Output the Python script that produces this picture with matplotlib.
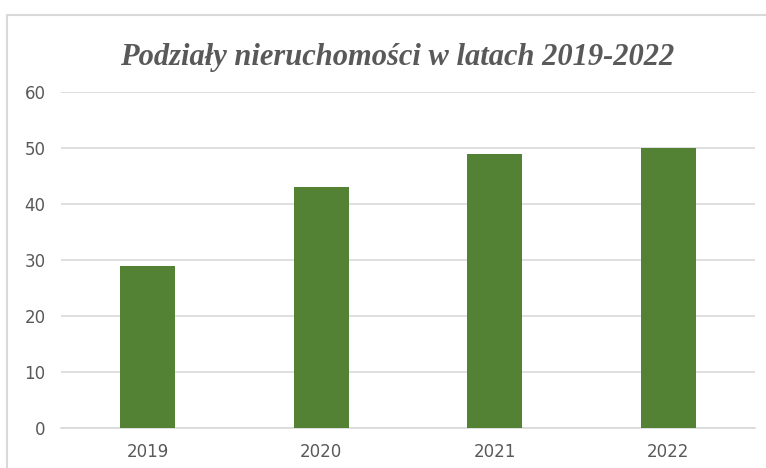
import matplotlib
matplotlib.use("Agg")
import matplotlib.pyplot as plt
from matplotlib.patches import Rectangle

years = ["2019", "2020", "2021", "2022"]
values = [29, 43, 49, 50]
yticks = [0, 10, 20, 30, 40, 50, 60]
title = "Podziały nieruchomości w latach 2019-2022"

W, H = 766, 468
fig = plt.figure(figsize=(W / 100, H / 100), dpi=100)
fig.patch.set_facecolor("white")

# outer chart border (extends beyond the right/bottom edges)
fig.patches.append(Rectangle((7 / W, -0.1), 1.2, (H - 15) / H + 0.1,
                             transform=fig.transFigure, fill=False,
                             edgecolor="#d9d9d9", linewidth=1.5))

ax = fig.add_axes([61 / W, (H - 428) / H, (755 - 61) / W, (428 - 92) / H])
x = list(range(len(years)))
ax.bar(x, values, width=0.317, color="#548235", zorder=3)
ax.set_xlim(-0.5, len(years) - 0.5)
ax.set_ylim(0, 60)
ax.set_yticks(yticks)
ax.set_xticks(x)
ax.set_xticklabels(years)
ax.grid(axis="y", color="#d9d9d9", linewidth=1.2, zorder=0)
for s in ["top", "right", "left"]:
    ax.spines[s].set_visible(False)
ax.spines["bottom"].set_color("#d9d9d9")
ax.spines["bottom"].set_linewidth(1.2)
ax.tick_params(axis="both", length=0, labelcolor="#595959", labelsize=12)
ax.tick_params(axis="y", pad=11)
ax.tick_params(axis="x", pad=11)

fig.text(397 / W, 1 - 57 / H, title, ha="center", va="center",
         family="Liberation Serif", style="italic", weight="bold",
         fontsize=22, color="#595959")

fig.savefig("out.png", dpi=100)
